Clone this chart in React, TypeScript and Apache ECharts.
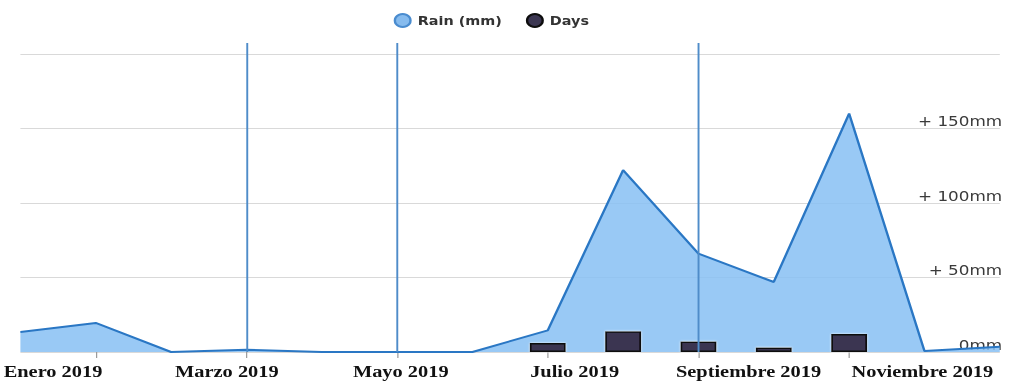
import React, { useEffect, useRef } from "react";
import * as echarts from "echarts";

// Monthly rainfall (mm) and rainy days, December 2018 – January 2020
const months = [
  "Diciembre 2018",
  "Enero 2019",
  "Febrero 2019",
  "Marzo 2019",
  "Abril 2019",
  "Mayo 2019",
  "Junio 2019",
  "Julio 2019",
  "Agosto 2019",
  "Septiembre 2019",
  "Octubre 2019",
  "Noviembre 2019",
  "Diciembre 2019",
  "Enero 2020",
];
const rainMm = [13.5, 19.5, 0, 1.5, 0, 0, 0, 14.5, 122, 66, 47, 160, 0.7, 3.5];
const rainDays = [0, 1, 0, 0, 0, 0, 0, 6, 14, 7, 3, 12, 1, 0];

// Months that carry an axis label
const xTickLabels = [
  "Enero 2019",
  "Marzo 2019",
  "Mayo 2019",
  "Julio 2019",
  "Septiembre 2019",
  "Noviembre 2019",
];
// Months highlighted with a vertical marker
const markerMonths = ["Marzo 2019", "Mayo 2019", "Septiembre 2019"];

const yMax = 200;
const yStep = 50;

const CHART_W = 844;
const CHART_H = 381;
const STRETCH = 1013 / CHART_W;

export default function App() {
  const ref = useRef<HTMLDivElement>(null);

  useEffect(() => {
    if (!ref.current) return;
    const chart = echarts.init(ref.current, null, { renderer: "svg" });

    const option: echarts.EChartsOption = {
      animation: false,
      backgroundColor: "#ffffff",
      legend: {
        left: 323,
        top: 8,
        icon: "circle",
        itemWidth: 15,
        itemHeight: 13,
        itemGap: 20,
        data: ["Rain (mm)", "Days"],
        textStyle: {
          fontFamily: "DejaVu Sans",
          fontWeight: "bold",
          fontSize: 12,
          color: "#333333",
        },
      },
      grid: [
        // plot area
        { left: 17, right: 11, top: 54, bottom: 29 },
        // month labels
        { left: 44, right: 75.5, top: 54, bottom: 29 },
        // vertical month markers
        { left: 17, right: 11, top: 43, bottom: 29 },
      ],
      xAxis: [
        {
          type: "category",
          gridIndex: 0,
          data: months,
          boundaryGap: false,
          axisLine: { show: false },
          axisLabel: { show: false },
          axisTick: {
            show: true,
            length: 6,
            interval: (_i: number, v: string) => xTickLabels.includes(v),
            lineStyle: { color: "#9a9a9a", width: 1 },
          },
          splitLine: { show: false },
        },
        {
          type: "category",
          gridIndex: 1,
          data: xTickLabels,
          boundaryGap: false,
          axisLine: { show: false },
          axisTick: { show: false },
          splitLine: { show: false },
          axisLabel: {
            interval: 0,
            showMinLabel: true,
            showMaxLabel: true,
            margin: 11,
            fontFamily: "Liberation Serif",
            fontWeight: "bold",
            fontSize: 17,
            color: "#111111",
          },
        },
        {
          type: "category",
          gridIndex: 2,
          data: months,
          boundaryGap: false,
          show: false,
        },
      ],
      yAxis: [
        {
          type: "value",
          gridIndex: 0,
          position: "right",
          min: 0,
          max: yMax,
          interval: yStep,
          axisLine: { show: false },
          axisTick: { show: false },
          splitLine: { lineStyle: { color: "#d9d9d9", width: 1.2 } },
          axisLabel: {
            inside: true,
            margin: -2,
            verticalAlign: "bottom",
            fontFamily: "DejaVu Sans",
            fontSize: 14,
            color: "#3a3a3a",
            formatter: (v: number) =>
              v === yMax ? "" : v === 0 ? "0mm" : `+ ${v}mm`,
          },
        },
        { type: "value", gridIndex: 1, show: false },
        { type: "value", gridIndex: 2, show: false, min: 0, max: 1 },
      ],
      series: [
        {
          name: "Rain (mm)",
          type: "line",
          xAxisIndex: 0,
          yAxisIndex: 0,
          data: rainMm,
          symbol: "none",
          lineStyle: { color: "#2a77c4", width: 2 },
          itemStyle: { color: "#86bbee", borderColor: "#4a8ccf", borderWidth: 1 },
          areaStyle: { color: "#87c0f3", opacity: 0.85 },
          z: 2,
        },
        {
          name: "Days",
          type: "bar",
          xAxisIndex: 0,
          yAxisIndex: 0,
          data: rainDays,
          barWidth: 30,
          itemStyle: {
            color: "#3b3651",
            borderColor: "#0d0d0d",
            borderWidth: 1.5,
            shadowColor: "rgba(255,255,255,0.95)",
            shadowBlur: 2,
          },
          z: 3,
        },
        {
          name: "markers",
          type: "line",
          xAxisIndex: 2,
          yAxisIndex: 2,
          data: months.map(() => null),
          symbol: "none",
          silent: true,
          z: 5,
          markLine: {
            silent: true,
            symbol: "none",
            label: { show: false },
            lineStyle: { color: "#4f8cc9", width: 1.6, type: "solid" },
            data: markerMonths.map((m) => ({ xAxis: m })),
            z: 5,
          },
        },
      ],
    };

    chart.setOption(option);
    return () => chart.dispose();
  }, []);

  return (
    <div
      ref={ref}
      style={{
        position: "absolute",
        left: 0,
        top: 0,
        width: CHART_W,
        height: CHART_H,
        transform: `scaleX(${STRETCH})`,
        transformOrigin: "0 0",
      }}
    />
  );
}
